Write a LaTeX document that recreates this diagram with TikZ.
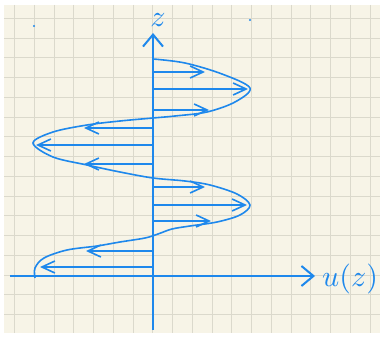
\documentclass[tikz,border=0pt]{standalone}
\usepackage{tikz,xcolor,graphicx}
\usetikzlibrary{arrows.meta}
\definecolor{pen}{RGB}{30,136,236}
\definecolor{paper}{RGB}{247,244,231}
\definecolor{gridline}{RGB}{219,217,204}
\tikzset{
    axis/.style={draw=pen, line width=2pt, -{Straight Barb[length=12pt, width=20pt]}}, % 坐标轴
    vel/.style={draw=pen, line width=1.6pt, -{Straight Barb[length=13pt, width=12pt]}}, % 速度箭头
    profile/.style={draw=pen, line width=1.6pt, line join=round} % 速度剖面
}

\begin{document}
\begin{tikzpicture}[x=1pt, y=-1pt]
    \useasboundingbox (0,0) rectangle (380,337);
    \fill[white] (0,0) rectangle (380,337);
    \fill[paper] (4,5) rectangle (380,333);

    % 方格纸
    \foreach \k in {0,...,18} \draw[gridline, line width=1pt] ({14.7+19.75*\k},5) -- ({14.7+19.75*\k},333);
    \foreach \k in {0,...,15} \draw[gridline, line width=1pt] (4,{18.3+19.76*\k}) -- (380,{18.3+19.76*\k});

    \coordinate (zbot) at (153, 330);
    \coordinate (ztop) at (153, 33);
    \coordinate (uleft) at (10, 276);
    \coordinate (uright) at (315, 276);

    \node (zlab) [inner sep=0pt] at (158, 20) {\color{pen}\scalebox{3}{$z$}};
    \node (ulab) [anchor=west, inner sep=0pt] at (322, 279) {\color{pen}\scalebox{3}{$u(z)$}};

    \draw[axis] (zbot) -- (ztop); % z 轴
    \draw[axis] (uleft) -- (uright); % u 轴

    % 速度剖面
    \draw[profile] plot[smooth, tension=0.55] coordinates {
        (153,59) (185,63) (222,74) (250,88) (235,102) (207,112) (175,116) (153,118)
        (120,121) (87,125) (53,132) (33,143) (53,157) (87,165) (120,172) (153,178)
        (185,181) (210,185) (237,194) (250,205) (240,215) (217,222) (190,226) (172,229)
        (158,234) (145,238) (120,242) (97,246) (67,250) (44,258) (35,268) (35,278)};

    % 速度箭头
    \foreach \i/\y/\x in {1/72/205, 2/89/248, 3/110/209, 4/128/84, 5/145/36, 6/164/84,
                          7/187/205, 8/205/247, 9/221/211, 10/251/86, 11/267/40} {
        \coordinate (s\i) at (153, \y);
        \coordinate (e\i) at (\x, \y);
        \draw[vel] (s\i) -- (e\i);
    }

    \fill[pen] (34, 26) circle (1.2);
    \fill[pen] (250, 20) circle (1.2);
\end{tikzpicture}
\end{document}
